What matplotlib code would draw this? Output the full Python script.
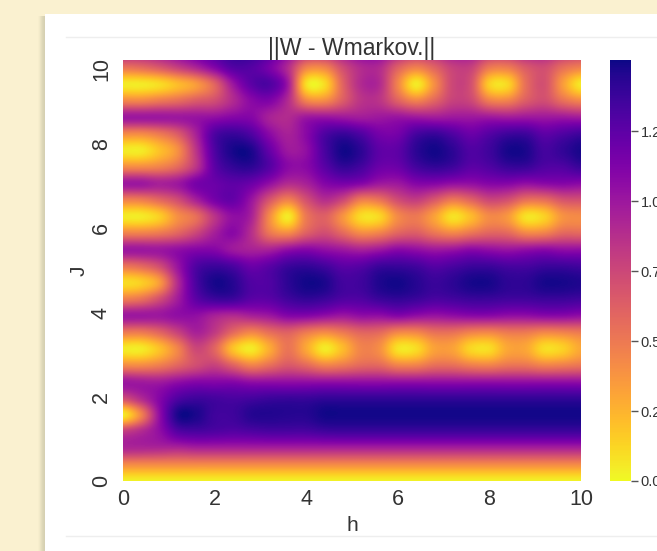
import numpy as np
import matplotlib
matplotlib.use("Agg")
import matplotlib.pyplot as plt
from matplotlib.patches import Rectangle
from matplotlib.lines import Line2D
from matplotlib.transforms import ScaledTranslation

title_text = "||W - Wmarkov.||"
x_label = "h"
y_label = "J"
axis_ticks = [0, 2, 4, 6, 8, 10]
colorbar_ticks = [0.0, 0.25, 0.5, 0.75, 1.0, 1.25]

h_step = 0.4
j_step = 0.3927
j00 = [.02]*26
j01 = [.42,.42,.42,.42,.42,.42,.42,.42,.42,.42,.42,.42,.42,.42,.42,.42,.42,.42,.42,.42,.42,.42,.42,.42,.42,.42]
j02 = [.92,.92,.92,.92,.95,.95,.95,.95,.95,.95,.95,.95,.95,.95,.95,.95,.95,.95,.95,.95,.95,.95,.95,.95,.95,.95]
j03 = [.8,.9,1.05,1.28,1.32,1.3,1.28,1.3,1.32,1.32,1.32,1.35,1.36,1.36,1.36,1.36,1.36,1.36,1.36,1.36,1.36,1.36,1.36,1.36,1.36,1.36]
j04 = [.05,.45,1.05,1.47,1.47,1.36,1.36,1.44,1.45,1.44,1.44,1.49,1.49,1.49,1.49,1.49,1.49,1.49,1.49,1.49,1.49,1.49,1.49,1.49,1.49,1.49]
j05 = [.72,.9,1.1,1.3,1.36,1.34,1.32,1.34,1.37,1.38,1.38,1.4,1.4,1.4,1.4,1.4,1.4,1.4,1.4,1.4,1.4,1.4,1.4,1.4,1.4,1.4]
j06 = [1.0,.98,.98,1.05,1.1,1.1,1.1,1.05,1.05,1.05,1.05,1.05,1.05,1.05,1.05,1.05,1.05,1.05,1.05,1.05,1.05,1.05,1.05,1.05,1.05,1.05]
j07 = [.42,.42,.48,.6,.72,.78,.62,.46,.55,.66,.58,.46,.5,.58,.58,.46,.46,.55,.55,.48,.46,.52,.52,.46,.48,.52]
j08 = [.05,.05,.2,.45,.75,.6,.2,.05,.28,.52,.3,.05,.22,.45,.4,.08,.1,.32,.32,.12,.1,.3,.3,.1,.14,.3]
j09 = [.5,.5,.6,.78,.95,.82,.58,.44,.55,.62,.5,.42,.5,.6,.58,.44,.44,.54,.54,.46,.44,.5,.5,.44,.46,.5]
j10 = [1.0,1.0,1.0,1.05,1.05,.95,.9,.95,1.0,1.1,1.1,1.05,1.0,1.05,1.05,1.1,1.05,1.02,1.05,1.08,1.08,1.05,1.05,1.08,1.08,1.05]
j11 = [.48,.54,.72,.98,1.25,1.36,1.36,1.26,1.26,1.35,1.4,1.37,1.3,1.3,1.37,1.4,1.37,1.32,1.34,1.37,1.37,1.35,1.35,1.37,1.37,1.35]
j12 = [.1,.15,.35,.9,1.32,1.48,1.44,1.3,1.3,1.42,1.49,1.47,1.35,1.36,1.46,1.49,1.44,1.38,1.42,1.48,1.48,1.42,1.42,1.48,1.48,1.46]
j13 = [.52,.58,.72,1.02,1.3,1.37,1.32,1.2,1.26,1.37,1.4,1.35,1.26,1.28,1.37,1.38,1.35,1.28,1.32,1.37,1.37,1.33,1.33,1.37,1.37,1.35]
j14 = [1.0,1.0,1.0,1.05,1.1,1.1,1.0,.95,.95,1.05,1.1,1.05,1.0,.95,1.0,1.08,1.05,1.0,1.02,1.08,1.05,1.02,1.05,1.08,1.05,1.05]
j15 = [.46,.46,.5,.6,.76,.96,1.08,.88,.52,.42,.62,.72,.58,.42,.46,.6,.64,.52,.44,.52,.6,.58,.44,.46,.58,.58]
j16 = [.05,.05,.15,.4,.55,.85,1.05,.95,.42,.05,.5,.62,.38,.1,.12,.42,.5,.32,.08,.22,.42,.36,.08,.14,.38,.42]
j17 = [.46,.48,.58,.72,.95,1.15,1.22,1.02,.68,.46,.7,.88,.75,.48,.52,.72,.8,.66,.5,.6,.75,.7,.54,.55,.68,.7]
j18 = [1.0,1.0,.95,1.0,1.15,1.2,1.25,1.2,1.05,.9,.95,1.1,1.15,1.1,1.0,1.0,1.1,1.1,1.05,1.05,1.1,1.1,1.05,1.08,1.1,1.08]
j19 = [.42,.42,.46,.58,.85,1.25,1.4,1.42,1.28,1.08,1.08,1.26,1.4,1.34,1.2,1.2,1.34,1.4,1.36,1.26,1.3,1.38,1.38,1.3,1.3,1.38]
j20 = [.05,.05,.2,.4,.85,1.3,1.48,1.47,1.22,1.0,1.05,1.32,1.49,1.42,1.25,1.25,1.42,1.49,1.42,1.3,1.36,1.48,1.47,1.34,1.4,1.48]
j21 = [.42,.42,.5,.65,.95,1.3,1.38,1.3,1.08,.95,1.08,1.3,1.38,1.3,1.16,1.16,1.33,1.38,1.3,1.2,1.28,1.36,1.36,1.25,1.3,1.36]
j22 = [1.0,1.0,1.0,1.0,1.02,1.05,1.1,1.1,.95,.9,1.0,1.02,1.0,.98,1.0,1.02,1.0,.98,1.0,1.0,1.0,.98,1.0,1.0,1.0,.98]
j23 = [.44,.44,.5,.56,.65,.72,.9,1.08,1.12,.9,.46,.42,.64,.85,.85,.62,.46,.6,.78,.75,.48,.46,.64,.72,.55,.44]
j24 = [.05,.05,.1,.22,.35,.6,1.0,1.25,1.3,1.0,.1,.1,.6,.9,.9,.45,.05,.4,.75,.7,.15,.12,.55,.7,.35,.05]
j25 = [.52,.56,.65,.78,.92,1.1,1.28,1.28,1.15,.9,.46,.44,.72,.9,.9,.62,.46,.6,.78,.78,.5,.48,.65,.72,.55,.46]
j26 = [.95,.95,1.0,1.1,1.2,1.3,1.4,1.4,1.3,1.1,.9,.9,1.0,1.1,1.1,.95,.85,.9,1.0,1.0,.85,.85,.95,.95,.85,.8]
rows = [j00, j01, j02, j03, j04, j05, j06, j07, j08, j09, j10, j11, j12, j13,
        j14, j15, j16, j17, j18, j19, j20, j21, j22, j23, j24, j25, j26]
values = np.array(rows)

W, H = 657, 551
plt.rcParams["font.family"] = ["Liberation Sans", "DejaVu Sans"]
fig = plt.figure(figsize=(W/100, H/100), dpi=100, facecolor="#FAF1D0")
text_color = "#333333"

def px_rect(x0, y0, x1, y1, color):
    fig.add_artist(Rectangle((x0/W, 1-y1/H), (x1-x0)/W, (y1-y0)/H,
                             transform=fig.transFigure, facecolor=color,
                             edgecolor="none", zorder=-5))

# card and its shadow
shadow = ["#F7EECD", "#F2EAC9", "#EBE3C3", "#E4DDBD", "#DDD7B8", "#D9D3B4", "#D6D0B2"]
for i, c in enumerate(shadow):
    px_rect(38+i, 16, 45, H, c)
px_rect(45, 14, W, H, "#FFFFFF")
for yy in (36.5, 535.5):
    fig.add_artist(Line2D([66/W, 1], [1-yy/H, 1-yy/H], color="#EEEEEE", lw=1,
                          transform=fig.transFigure, zorder=-4))

L, R, T, B = 123, 581, 60, 481
ax = fig.add_axes([L/W, 1-B/H, (R-L)/W, (B-T)/H])
nrow, ncol = values.shape
im = ax.imshow(values, origin="lower", cmap="plasma_r", vmin=0, vmax=1.504,
               interpolation="catrom", aspect="auto",
               extent=[-h_step/2, (ncol-0.5)*h_step, -j_step/2, (nrow-0.5)*j_step])
ax.set_xlim(0, 10)
ax.set_ylim(0, 10)
ax.set_xticks(axis_ticks)
ax.set_yticks(axis_ticks)
ax.tick_params(length=0, labelsize=15.5, labelcolor=text_color)
ax.tick_params(axis="x", pad=6)
ax.tick_params(axis="y", pad=8)
for t in ax.get_yticklabels():
    t.set_rotation(90)
    t.set_va("center")
last = ax.get_yticklabels()[-1]
last.set_va("top")
last.set_transform(last.get_transform() + ScaledTranslation(0, 2/72, fig.dpi_scale_trans))
for s in ax.spines.values():
    s.set_visible(False)
ax.set_title(title_text, fontsize=16.6, color=text_color, pad=1)
ax.set_xlabel(x_label, fontsize=15, color=text_color, labelpad=4)
ax.set_ylabel(y_label, fontsize=15, color=text_color, labelpad=2)

cax = fig.add_axes([610/W, 1-B/H, 21/W, (B-T)/H])
cb = fig.colorbar(im, cax=cax)
cb.set_ticks(colorbar_ticks)
cb.set_ticklabels(["0.00", "0.25", "0.50", "0.75", "1.00", "1.25"])
cb.outline.set_visible(False)
cax.tick_params(length=5, width=1, color="#555555", labelsize=10.5, labelcolor=text_color, pad=2)

fig.savefig("out.png", dpi=100, facecolor=fig.get_facecolor())
